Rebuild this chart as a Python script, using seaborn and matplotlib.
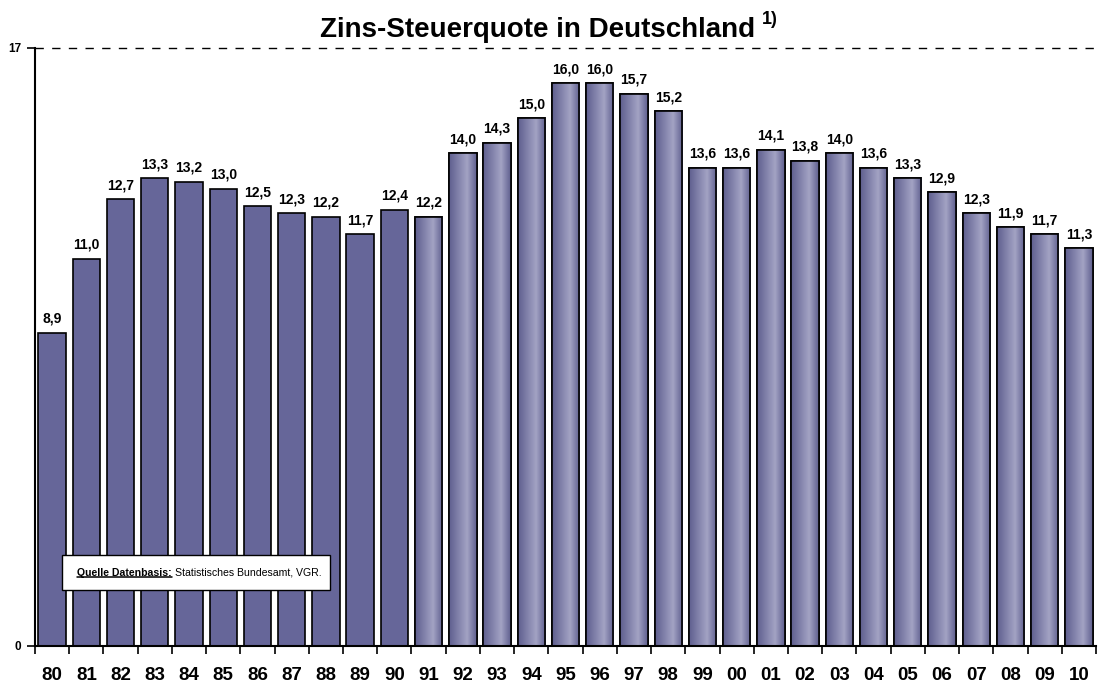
import numpy as np
import pandas as pd
import matplotlib
matplotlib.use("Agg")
import matplotlib.pyplot as plt
import seaborn as sns
from matplotlib.colors import LinearSegmentedColormap

years = ["80", "81", "82", "83", "84", "85", "86", "87", "88", "89", "90",
         "91", "92", "93", "94", "95", "96", "97", "98", "99", "00",
         "01", "02", "03", "04", "05", "06", "07", "08", "09", "10"]
values = [8.9, 11.0, 12.7, 13.3, 13.2, 13.0, 12.5, 12.3, 12.2, 11.7, 12.4,
          12.2, 14.0, 14.3, 15.0, 16.0, 16.0, 15.7, 15.2, 13.6, 13.6,
          14.1, 13.8, 14.0, 13.6, 13.3, 12.9, 12.3, 11.9, 11.7, 11.3]
labels = [f"{v:.1f}".replace(".", ",") for v in values]

sns.set_theme(style="white")
plt.rcParams['font.family'] = ['Liberation Sans', 'DejaVu Sans']
plt.rcParams['text.color'] = 'black'
plt.rcParams['xtick.color'] = 'black'
plt.rcParams['ytick.color'] = 'black'
plt.rcParams['axes.labelcolor'] = 'black'

df = pd.DataFrame({"year": years, "value": values})
fig = plt.figure(figsize=(11, 6.87), dpi=100)
ax = fig.add_axes([0.0318, 0.0597, 0.9646, 0.8705])

sns.barplot(data=df, x="year", y="value", color="#666699", saturation=1,
            edgecolor="black", linewidth=1.2, width=0.8, ax=ax, zorder=2)

cmap = LinearSegmentedColormap.from_list(
    "g", [(0, "#5e5e8e"), (0.65, "#a3a3c4"), (1, "#5e5e8e")])
grad = np.linspace(0, 1, 256).reshape(1, -1)
bars = list(ax.patches[:len(values)])
for i, bar in enumerate(bars):
    if i >= 11:
        x0 = bar.get_x(); w = bar.get_width(); h = bar.get_height()
        im = ax.imshow(grad, cmap=cmap, aspect="auto",
                       extent=[x0, x0 + w, 0, h], zorder=2.5)
        im.set_clip_path(bar)
        ax.add_patch(plt.Rectangle((x0, 0), w, h, fill=False,
                                   edgecolor="black", linewidth=1.2, zorder=3))

for i, bar in enumerate(bars):
    ax.text(bar.get_x() + bar.get_width() / 2, bar.get_height() + 0.2,
            labels[i], ha="center", va="bottom", fontsize=10,
            fontweight="bold", zorder=4)

ax.set_xlim(-0.5, len(years) - 0.5)
ax.set_ylim(0, 17)
ax.set_yticks([0, 17])
ax.set_yticklabels(["0", "17"], fontsize=8.5, fontweight="bold")
ax.set_xticks(range(len(years)))
ax.set_xticklabels(years, fontsize=13.5, fontweight="bold")
ax.set_xticks(np.arange(-0.5, len(years), 1), minor=True)
ax.tick_params(axis="x", which="major", length=0, pad=15)
ax.tick_params(axis="x", which="minor", length=6, width=1.2, direction="out",
               color="black", bottom=True)
ax.tick_params(axis="y", which="major", length=6, width=1.2, direction="out",
               color="black", left=True, pad=4)
ax.set_xlabel("")
ax.set_ylabel("")
for s in ["top", "right"]:
    ax.spines[s].set_visible(False)
for s in ["left", "bottom"]:
    ax.spines[s].set_color("black")
    ax.spines[s].set_linewidth(1.5)
ax.axhline(17, color="black", linestyle=(0, (6, 6)), linewidth=1, zorder=1,
           clip_on=False)

fig.text(0.291, 0.956, "Zins-Steuerquote in Deutschland", ha="left",
         va="center", fontsize=20, fontweight="bold")
fig.text(0.693, 0.972, "1)", ha="left", va="center", fontsize=13,
         fontweight="bold")

# source box
ax.add_patch(plt.Rectangle((0.0254, 0.0936), 0.2526, 0.0586,
                           transform=ax.transAxes, facecolor="white",
                           edgecolor="black", linewidth=1, zorder=5))
t1 = ax.text(0.0396, 0.1227, "Quelle Datenbasis:", transform=ax.transAxes,
             fontsize=7.6, fontweight="bold", va="center", ha="left", zorder=6)
fig.canvas.draw()
bb = t1.get_window_extent().transformed(ax.transAxes.inverted())
ax.text(bb.x1 + 0.003, 0.1227, "Statistisches Bundesamt, VGR.",
        transform=ax.transAxes, fontsize=7.6, va="center", ha="left", zorder=6)
ax.plot([bb.x0, bb.x1], [bb.y0 + 0.001, bb.y0 + 0.001],
        transform=ax.transAxes, color="black", lw=1.1, zorder=7)

fig.savefig("out.png", dpi=100)
